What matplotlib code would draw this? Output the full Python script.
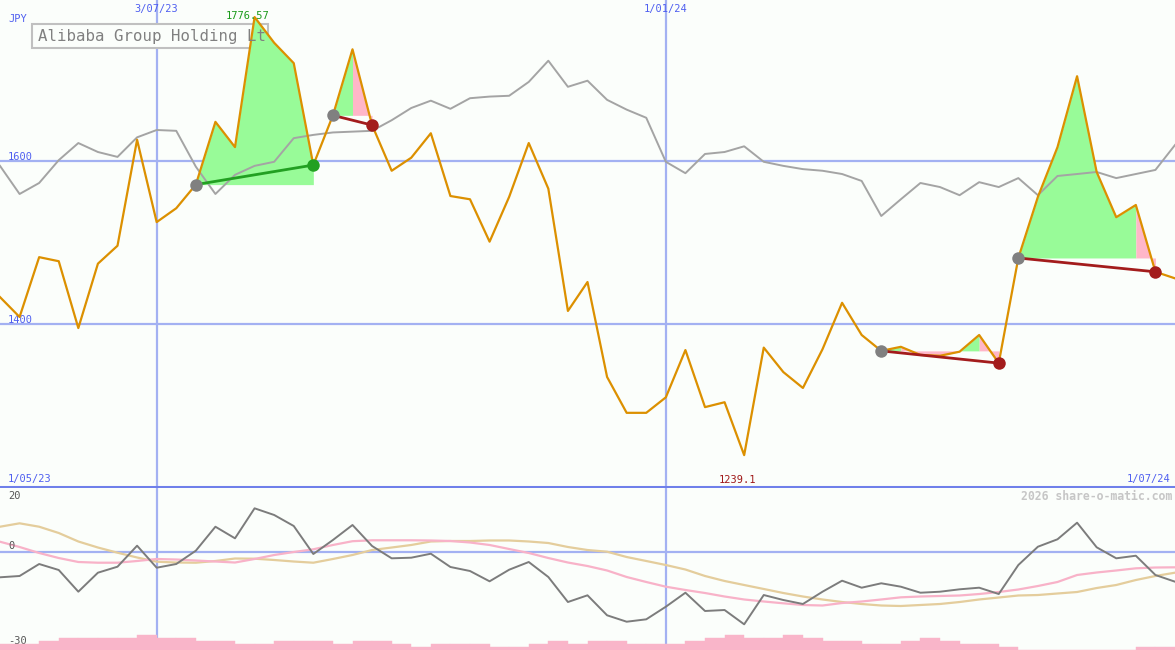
import matplotlib
matplotlib.use("Agg")
import matplotlib.pyplot as plt
import matplotlib.transforms as mtransforms
from matplotlib.patches import Rectangle
import pandas as pd

# weekly closes, Alibaba Group Holding Ltd (JPY)
dates = pd.date_range("2023-05-08", periods=61, freq="7D")
price = [1433, 1408.6, 1482, 1477, 1395, 1474, 1496, 1626, 1525, 1542,
         1571, 1648, 1617, 1776.57, 1745, 1720, 1595, 1656, 1737, 1644,
         1588, 1604, 1634, 1557, 1553, 1501, 1556, 1622, 1566, 1416,
         1451.5, 1335, 1291, 1291, 1310, 1368, 1298, 1304, 1239.1, 1371,
         1341, 1321.5, 1369, 1426, 1386.5, 1367, 1372, 1362, 1361, 1366,
         1386.5, 1352, 1481, 1556, 1617, 1704, 1586.5, 1531, 1546, 1464,
         1456]
# relative index line (grey)
relative = [1594, 1559.5, 1573, 1601, 1622, 1611, 1605, 1629, 1638, 1637,
            1593, 1559.5, 1583, 1594, 1599, 1628, 1632, 1635, 1636, 1637,
            1650, 1665, 1674, 1664, 1677, 1679, 1680, 1697, 1723, 1691,
            1698.5, 1675, 1663, 1653, 1599, 1585, 1608.6, 1611, 1618, 1599,
            1594, 1590, 1588, 1584, 1575.5, 1532.5, 1553, 1573, 1568, 1558,
            1574, 1568, 1579, 1558, 1581.6, 1584, 1586.5, 1579, 1584, 1589,
            1619.6]
# oscillator panel
osc = [-7.96, -7.56, -3.86, -5.71, -12.4, -6.54, -4.69, 1.79, -5.0, -3.86,
       0.25, 7.65, 4.07, 13.33, 11.27, 7.87, -0.77, 3.55, 8.18, 1.70,
       -2.1, -1.91, -0.68, -4.78, -6.02, -9.2, -5.62, -3.24, -7.87, -15.59,
       -13.52, -19.69, -21.67, -20.93, -17.04, -12.72, -18.36, -18.06, -22.47, -13.43,
       -14.97, -16.2, -12.41, -9.01, -11.17, -9.81, -10.86, -12.72, -12.41, -11.67,
       -11.17, -13.12, -4.17, 1.48, 3.77, 8.89, 1.30, -2.10, -1.30, -7.25,
       -9.32]
osc_fast = [3.02, 1.39, -0.46, -2.01, -3.24, -3.46, -3.46, -2.93, -2.31, -2.47,
            -2.78, -3.09, -3.40, -2.31, -1.08, -0.15, 0.68, 2.01, 3.18, 3.46,
            3.46, 3.46, 3.40, 3.24, 2.78, 2.01, 0.77, -0.46, -2.01, -3.40,
            -4.48, -5.86, -7.87, -9.41, -10.86, -11.88, -12.81, -13.89, -14.81, -15.43,
            -15.99, -16.51, -16.67, -15.90, -15.43, -14.81, -14.14, -13.89, -13.73, -13.58,
            -13.12, -12.50, -11.73, -10.65, -9.41, -7.25, -6.48, -5.86, -5.19, -4.94,
            -4.88]
osc_slow = [7.65, 8.70, 7.65, 5.71, 3.09, 1.23, -0.37, -1.85, -3.15, -3.40,
            -3.46, -2.93, -2.16, -2.22, -2.62, -3.09, -3.46, -2.31, -1.08, 0.46,
            1.23, 2.01, 3.09, 3.24, 3.24, 3.40, 3.40, 3.09, 2.62, 1.39,
            0.46, -0.06, -1.70, -2.93, -4.17, -5.56, -7.56, -9.10, -10.34, -11.57,
            -12.81, -13.89, -14.81, -15.59, -16.20, -16.67, -16.82, -16.51, -16.20, -15.59,
            -14.81, -14.20, -13.58, -13.43, -12.96, -12.50, -11.27, -10.34, -8.80, -7.56,
            -6.54]
volume = [2, 2, 3, 4, 4, 4, 4, 5, 4, 4,
          3, 3, 2, 2, 3, 3, 3, 2, 3, 3,
          2, 1, 2, 2, 2, 1, 1, 2, 3, 2,
          3, 3, 2, 2, 2, 3, 4, 5, 4, 4,
          5, 4, 3, 3, 2, 2, 3, 4, 3, 2,
          2, 1, 0, 0, 0, 0, 0, 0, 1, 1]

# trades: entry week, exit week, colour of each week of the holding
trade_entry = [10, 17, 45, 52]
trade_exit = [16, 19, 51, 59]
trade_segments = [
    ["g", "g", "g", "g", "g", "g"],
    ["g", "p"],
    ["g", "p", "p", "p", "g", "p"],
    ["g", "g", "g", "g", "g", "g", "p"],
]

month_marks = ["2023-07-03", "2024-01-01"]
month_labels = ["3/07/23", "1/01/24"]

BG = "#fbfefb"
GRID = "#a3b1f2"
SEP = "#6f80ea"
BLUE = "#4f5ff0"
ORANGE = "#dc9000"
FILL = {"g": "#98fb98", "p": "#ffb6c8"}
MONO = "DejaVu Sans Mono"

W, H = 1175, 650
fig = plt.figure(figsize=(W / 100, H / 100), dpi=100, facecolor=BG)
ax = fig.add_axes([0, 163 / H, 1, 487 / H])
ax2 = fig.add_axes([0, 0, 1, 162 / H])
for a in (ax, ax2):
    a.set_facecolor(BG)
    a.set_xlim(dates[0], dates[-1])
    a.set_xticks([])
    a.set_yticks([])
    for s in a.spines.values():
        s.set_visible(False)
ax.set_ylim(1200, 1797.5)
ax2.set_ylim(-30.4, 19.6)

# grid
for v in (1600, 1400):
    ax.axhline(v, color=GRID, lw=1.6, zorder=0.5)
ax.axhline(1200, color=SEP, lw=2.2, zorder=0.6, clip_on=False)
ax2.axhline(0, color=GRID, lw=1.6, zorder=0.5)
for d in month_marks:
    ax.axvline(pd.Timestamp(d), color=GRID, lw=1.6, zorder=0.5)
    ax2.axvline(pd.Timestamp(d), color=GRID, lw=1.6, zorder=0.5)

# title box
ax.add_patch(Rectangle((32 / W, 1 - 48 / H), 236 / W, 24 / H, transform=fig.transFigure,
                       facecolor=BG, edgecolor="#c0c0c0", lw=1.5, zorder=1))
fig.text(38 / W, 1 - 37 / H, "Alibaba Group Holding Lt", family=MONO, fontsize=11.3,
         color="#808080", va="center", ha="left", zorder=1.2)

# trade fills, one polygon per run of same colour
for e, x, segs in zip(trade_entry, trade_exit, trade_segments):
    level = price[e]
    j = 0
    while j < len(segs):
        k = j
        while k + 1 < len(segs) and segs[k + 1] == segs[j]:
            k += 1
        i0, i1 = e + j, e + k + 1
        ax.fill_between(dates[i0:i1 + 1], price[i0:i1 + 1], level,
                        color=FILL[segs[j]], lw=0, zorder=2)
        j = k + 1

ax.plot(dates, relative, color="#a4a4a4", lw=1.4, zorder=3)
ax.plot(dates, price, color=ORANGE, lw=1.6, zorder=4)

for e, x in zip(trade_entry, trade_exit):
    col = "#22a022" if price[x] > price[e] else "#a31c1c"
    ax.plot([dates[e], dates[x]], [price[e], price[x]], color=col, lw=2, zorder=5)
    ax.plot(dates[e], price[e], "o", color="#808080", ms=9, mec="none", zorder=6)
    ax.plot(dates[x], price[x], "o", color=col, ms=9, mec="none", zorder=6)

# labels main panel
top = mtransforms.blended_transform_factory(ax.transData, ax.transAxes)
for d, lab in zip(month_marks, month_labels):
    ax.text(pd.Timestamp(d), 0.991, lab, transform=top, ha="center", va="top",
            family=MONO, fontsize=7.5, color=BLUE)
left = mtransforms.blended_transform_factory(ax.transAxes, ax.transData)
for v in (1600, 1400):
    ax.text(8 / W, v - 1, str(v), transform=left, ha="left", va="bottom",
            family=MONO, fontsize=7.5, color=BLUE)
ax.text(8 / W, 1 - 19 / 487, "JPY", transform=ax.transAxes, ha="left", va="center",
        family=MONO, fontsize=7.5, color=BLUE)
ax.text(8 / W, 8 / 487, "1/05/23", transform=ax.transAxes, ha="left", va="center",
        family=MONO, fontsize=7.5, color=BLUE)
ax.text(1 - 5 / W, 8 / 487, "1/07/24", transform=ax.transAxes, ha="right", va="center",
        family=MONO, fontsize=7.5, color=BLUE)

imax = price.index(max(price))
imin = price.index(min(price))
ax.annotate(f"{price[imax]:.2f}", (dates[imax], price[imax]), xytext=(-7, 1),
            textcoords="offset pixels", ha="center", va="center",
            family=MONO, fontsize=7.5, color="#1a9a1a", zorder=7)
ax.annotate(f"{price[imin]:.1f}", (dates[imin], price[imin]), xytext=(-7, -25),
            textcoords="offset pixels", ha="center", va="center",
            family=MONO, fontsize=7.5, color="#a01818", zorder=7)

# lower panel
ax3 = ax2.twinx()
ax3.set_ylim(0, 54)
ax3.set_yticks([])
for s in ax3.spines.values():
    s.set_visible(False)
ax3.bar(dates[:-1], volume, width=pd.Timedelta(days=7), align="edge",
        color="#f9b5c9", lw=0.3, edgecolor="#f9b5c9", zorder=1)

ax2.plot(dates, osc_slow, color="#e4cd9c", lw=1.6, zorder=2)
ax2.plot(dates, osc_fast, color="#f8b2c8", lw=1.6, zorder=2)
ax2.plot(dates, osc, color="#7c7c7c", lw=1.4, zorder=3)

ax2.text(8 / W, 1 - 8 / 162, "20", transform=ax2.transAxes, ha="left", va="center",
         family=MONO, fontsize=7.5, color="#555555")
ax2.text(8 / W, 0.2, "0", transform=mtransforms.blended_transform_factory(ax2.transAxes, ax2.transData),
         ha="left", va="bottom", family=MONO, fontsize=7.5, color="#555555")
ax2.text(8 / W, 9 / 162, "-30", transform=ax2.transAxes, ha="left", va="center",
         family=MONO, fontsize=7.5, color="#555555")
ax2.text(1 - 3 / W, 1 - 9 / 162, "2026 share-o-matic.com", transform=ax2.transAxes,
         ha="right", va="center", family=MONO, fontsize=8.3, fontweight="bold",
         color="#c6c6c6")

fig.savefig("out.png", dpi=100, facecolor=BG)
